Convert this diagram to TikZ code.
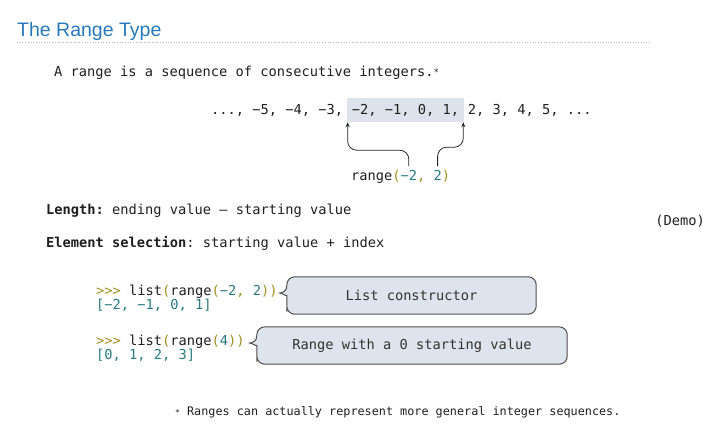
\documentclass[tikz,border=0pt]{standalone}
\usepackage{fontspec}
\setmainfont{Liberation Sans}
\setmonofont{DejaVu Sans Mono}
\usetikzlibrary{positioning, calc, arrows.meta, backgrounds}

\definecolor{titleblue}{RGB}{38,121,186}
\definecolor{hlgray}{RGB}{221,227,234}
\definecolor{calloutfill}{RGB}{222,228,235}
\definecolor{calloutline}{RGB}{78,78,78}
\definecolor{pyolive}{RGB}{160,142,28}
\definecolor{pyteal}{RGB}{40,122,128}

\newcommand{\pyop}[1]{\textcolor{pyolive}{#1}}
\newcommand{\pynum}[1]{\textcolor{pyteal}{#1}}
\newcommand{\smallstar}{\raisebox{1pt}{\fontsize{9}{9}\selectfont*}}

\tikzset{
    code/.style={font=\ttfamily\fontsize{13.7}{14}\selectfont, text=black!88, inner sep=0pt, anchor=west},
    callout/.style={draw=calloutline, fill=calloutfill, line width=1pt},
    calloutlabel/.style={font=\ttfamily\fontsize{13.7}{14}\selectfont, text=black!80, minimum height=37pt, inner sep=0pt},
    pointer/.style={draw=black!85, line width=0.8pt, rounded corners=9pt, -{Stealth[length=5pt, width=4pt]}},
}

\begin{document}
\begin{tikzpicture}[x=1pt, y=1pt]
    \useasboundingbox (0,0) rectangle (725,-424);

    % heading
    \node (title) [anchor=base west, inner sep=0pt, text=titleblue, font=\fontsize{19.5}{20}\selectfont] at (17,-36) {The Range Type};
    \draw[black!30, dotted, line width=0.7pt] (17,-42) -- (650,-42);

    \node (intro) [code] at (54,-73) {A range is a sequence of consecutive integers.\smallstar};

    % number line, with the part that range(-2, 2) covers
    \node (nlpre)  [code] at (211,-110) {..., −5, −4, −3,};
    \node (nlmid)  [code, fill=hlgray, inner xsep=5pt, minimum height=24pt, base right=3.3pt of nlpre] {−2, −1, 0, 1,};
    \node (nlpost) [code, base right=3.3pt of nlmid] {2, 3, 4, 5, ...};

    \node (rng) [code] at (351,-177) {range\pyop{(}\pynum{−2}\pyop{,} \pynum{2}\pyop{)}};
    \coordinate (argA) at ([xshift=57.8pt, yshift=4pt]rng.north west);
    \coordinate (argB) at ([xshift=86.6pt, yshift=4pt]rng.north west);

    \draw[pointer] (argA) |- ([xshift=1pt, yshift=-28pt]nlmid.south west) -- ([xshift=1pt]nlmid.south west);
    \draw[pointer] (argB) |- ([xshift=-1pt, yshift=-25pt]nlmid.south east) -- ([xshift=-1pt]nlmid.south east);

    \node (len)  [code] at (46,-211) {\textbf{Length:} ending value – starting value};
    \node (demo) [code, anchor=east] at (705,-221) {(Demo)};
    \node (elem) [code] at (46,-243) {\textbf{Element selection}: starting value + index};

    % interpreter examples
    \node (ex1)  [code] at (96,-292) {\pyop{>>>} list\pyop{(}range\pyop{(}\pynum{−2}\pyop{,} \pynum{2}\pyop{))}};
    \node (out1) [code, anchor=base west] at ([yshift=-14pt]ex1.base west) {\pynum{[−2, −1, 0, 1]}};
    \node (ex2)  [code] at (96,-342) {\pyop{>>>} list\pyop{(}range\pyop{(}\pynum{4}\pyop{))}};
    \node (out2) [code, anchor=base west] at ([yshift=-14pt]ex2.base west) {\pynum{[0, 1, 2, 3]}};

    \node (ctor)      [calloutlabel, minimum width=249pt] at (411.5,-295.5) {List constructor};
    \node (zerostart) [calloutlabel, minimum width=310pt] at (412,-345.5)   {Range with a 0 starting value};

    \begin{scope}[on background layer]
        \foreach \c in {ctor, zerostart} {
            \draw[callout, rounded corners=8pt]
                ($(\c.west)+(0,10)$) -- (\c.north west) -- (\c.north east) -- (\c.south east)
                -- (\c.south west) -- ($(\c.west)+(0,-8)$) [sharp corners]
                .. controls ($(\c.west)+(0,-1)$) and ($(\c.west)+(-4,2)$) .. ($(\c.west)+(-7,2.5)$)
                .. controls ($(\c.west)+(-4,3)$) and ($(\c.west)+(0,4)$) .. cycle;
        }
    \end{scope}

    \node (note) [code, font=\ttfamily\fontsize{11.8}{12}\selectfont] at (175,-412) {{\fontsize{8}{8}\selectfont*} Ranges can actually represent more general integer sequences.};
\end{tikzpicture}
\end{document}
